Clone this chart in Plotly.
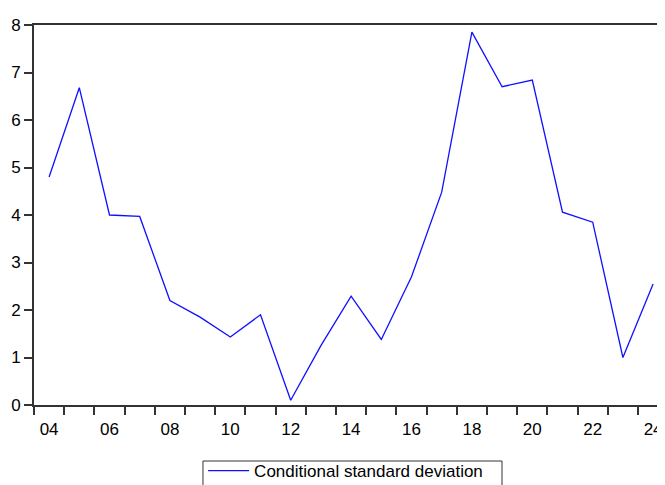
import plotly.graph_objects as go

years = list(range(2004, 2025))
values = [4.80, 6.68, 4.00, 3.97, 2.20, 1.85, 1.43, 1.90, 0.10, 1.25, 2.29,
          1.38, 2.70, 4.48, 7.85, 6.70, 6.84, 4.06, 3.85, 1.00, 2.55]
label_years = list(range(2004, 2025, 2))
label_text = [f"{y % 100:02d}" for y in label_years]
series_name = "Conditional standard deviation"

font_family = "Arial, Liberation Sans, sans-serif"

fig = go.Figure()
fig.add_trace(go.Scatter(x=years, y=values, mode="lines", name=series_name,
                         line=dict(color="#1010ff", width=1.3)))

fig.update_layout(
    width=665, height=485,
    margin=dict(l=26, r=8, t=17, b=88, autoexpand=False),
    paper_bgcolor="white", plot_bgcolor="white",
    font=dict(family=font_family, size=17, color="black"),
    showlegend=True,
    legend=dict(x=0.268, y=-0.1263, xanchor="left", yanchor="top",
                orientation="h",
                borderwidth=0, bgcolor="rgba(0,0,0,0)",
                font=dict(size=17, family=font_family),
                itemwidth=41, entrywidth=242),
)
# legend frame (cut by the lower edge, as in the original)
fig.add_shape(type="rect", xref="paper", yref="paper",
              x0=0.2678, x1=0.7417, y0=-0.1474, y1=-0.2600,
              line=dict(color="#333333", width=1), fillcolor="rgba(0,0,0,0)")

fig.update_xaxes(
    range=[2003.5, 2003.5 + 631 / 30.2],
    tickmode="array", tickvals=label_years, ticktext=label_text,
    ticks="outside", ticklen=8, tickcolor="rgba(0,0,0,0)",
    ticklabeloverflow="allow",
    minor=dict(tick0=2003.5, dtick=1, ticks="outside", ticklen=8,
               tickcolor="#333333", tickwidth=1.5, showgrid=False),
    showline=True, linecolor="#333333", linewidth=1.6, mirror=True,
    showgrid=False, zeroline=False,
    tickfont=dict(size=17),
)
fig.update_yaxes(
    range=[0, 8], dtick=1, tick0=0,
    ticks="outside", ticklen=8, tickcolor="#333333", tickwidth=1.5,
    showline=True, linecolor="#333333", linewidth=1.6,
    showgrid=False, zeroline=False,
    tickfont=dict(size=17),
)

fig.write_html("out.html")
